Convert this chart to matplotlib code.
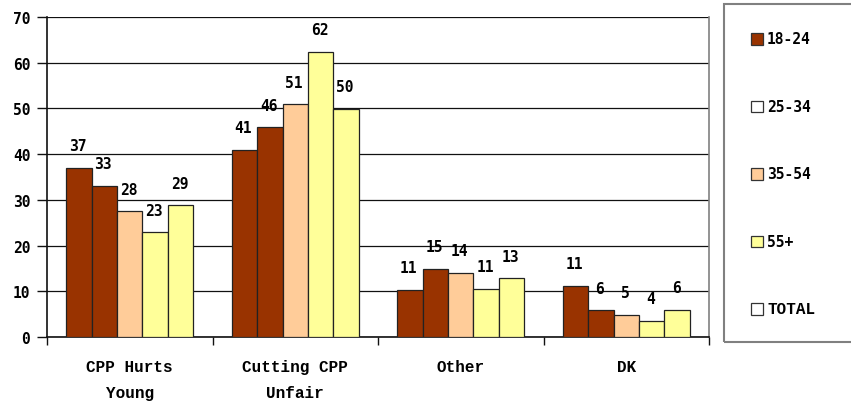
import matplotlib
matplotlib.use("Agg")
import matplotlib.pyplot as plt
from matplotlib.patches import Rectangle
import numpy as np

categories = ["CPP Hurts\nYoung", "Cutting CPP\nUnfair", "Other", "DK"]
series_names = ["18-24", "25-34", "35-54", "55+", "TOTAL"]
v_18_24 = [37.0, 41.0, 10.3, 11.2]
v_25_34 = [33.1, 45.9, 14.9, 5.8]
v_35_54 = [27.5, 50.9, 14.0, 4.9]
v_55p = [22.9, 62.4, 10.5, 3.6]
v_total = [28.8, 49.9, 12.9, 6.0]
lab_18_24 = ["37", "41", "11", "11"]
lab_25_34 = ["33", "46", "15", "6"]
lab_35_54 = ["28", "51", "14", "5"]
lab_55p = ["23", "62", "11", "4"]
lab_total = ["29", "50", "13", "6"]
yticks = [0, 10, 20, 30, 40, 50, 60, 70]

DARK = "#993300"
PEACH = "#FFCC99"
YELLOW = "#FFFF99"
bar_colors = [DARK, DARK, PEACH, YELLOW, YELLOW]
legend_colors = [DARK, "#FFFFFF", PEACH, YELLOW, "#FFFFFF"]

values = [v_18_24, v_25_34, v_35_54, v_55p, v_total]
labels = [lab_18_24, lab_25_34, lab_35_54, lab_55p, lab_total]

W, H = 851, 402
fig = plt.figure(figsize=(W / 100, H / 100), dpi=100)
ax = fig.add_axes([47 / W, 1 - 338 / H, (709 - 47) / W, (338 - 18) / H])

num_font = dict(family="DejaVu Sans Mono", fontsize=10.5, fontweight="bold")
cat_font = dict(family="Liberation Mono", fontsize=11.5, fontweight="bold")

x = np.arange(len(categories))
bw = 0.154
for i, (vals, labs) in enumerate(zip(values, labels)):
    xs = x - 2 * bw + i * bw
    ax.bar(xs, vals, width=bw, color=bar_colors[i], edgecolor="#222222",
           linewidth=0.9, zorder=3)
    for xi, v, l in zip(xs, vals, labs):
        ax.annotate(l, (xi, v), xytext=(-1, 22), textcoords="offset pixels",
                    ha="center", va="center", **num_font)

ax.set_xlim(-0.5, 3.5)
ax.set_ylim(0, 70)
ax.set_yticks(yticks)
ax.set_yticklabels([str(t) for t in yticks], **num_font)
ax.yaxis.grid(True, color="#111111", linewidth=0.9, zorder=0)
ax.set_axisbelow(True)

ax.set_xticks(np.arange(-0.5, 4.0, 1.0))
ax.set_xticklabels([])
ax.set_xticks(x, minor=True)
ax.set_xticklabels(categories, minor=True, linespacing=1.92, **cat_font)
ax.tick_params(axis="x", which="major", direction="out", length=6, width=1, color="#111111")
ax.tick_params(axis="x", which="minor", length=0, pad=16)
ax.tick_params(axis="y", direction="out", length=7, width=1, pad=5, color="#111111")

ax.spines["left"].set_color("#111111")
ax.spines["bottom"].set_color("#111111")
ax.spines["left"].set_linewidth(1.2)
ax.spines["bottom"].set_linewidth(1.2)
ax.spines["top"].set_visible(False)
ax.spines["right"].set_color("#808080")
ax.spines["right"].set_linewidth(1.2)

# legend box
def fx(px):
    return px / W

def fy(py):
    return 1 - py / H

fig.patches.append(Rectangle((fx(723.5), fy(342.5)), fx(870) - fx(723.5), fy(5) - fy(342.5),
                             transform=fig.transFigure, facecolor="none",
                             edgecolor="#808080", linewidth=1.5, clip_on=False))
for k, (name, col) in enumerate(zip(series_names, legend_colors)):
    cy = 40 + k * 67.5
    fig.patches.append(Rectangle((fx(751), fy(cy + 5.7)), fx(762.5) - fx(751), fy(cy - 5.7) - fy(cy + 5.7),
                                 transform=fig.transFigure, facecolor=col,
                                 edgecolor="#333333", linewidth=0.9))
    fnt = cat_font if name == "TOTAL" else num_font
    fig.text(fx(767), fy(cy), name, ha="left", va="center", **fnt)

fig.savefig("out.png", dpi=100)
